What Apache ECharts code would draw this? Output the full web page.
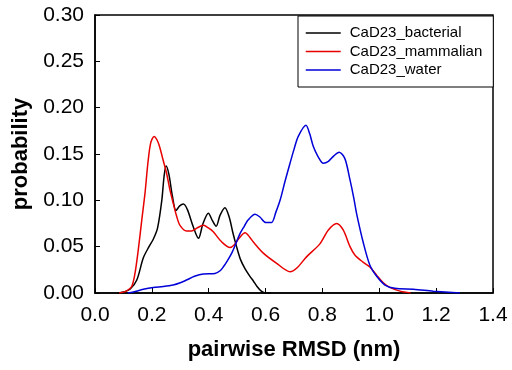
<!DOCTYPE html>
<html>
<head>
<meta charset="utf-8">
<script src="https://cdn.jsdelivr.net/npm/echarts@6/dist/echarts.min.js"></script>
<style>html,body{margin:0;padding:0;background:#fff}#c{width:512px;height:370px}</style>
</head>
<body>
<div id="c"></div>
<script>
const seriesNames = ['CaD23_bacterial', 'CaD23_mammalian', 'CaD23_water'];
const xTicks = [0, 0.2, 0.4, 0.6, 0.8, 1.0, 1.2, 1.4];
const yTicks = [0, 0.05, 0.10, 0.15, 0.20, 0.25, 0.30];

const bacterial = [[0.08,0],[0.10,0.001],[0.123,0.004],[0.147,0.014],[0.17,0.038],[0.19,0.05],[0.205,0.058],[0.22,0.07],[0.235,0.1],[0.243,0.126],[0.25,0.137],[0.26,0.128],[0.272,0.105],[0.285,0.089],[0.298,0.094],[0.311,0.096],[0.325,0.09],[0.345,0.072],[0.364,0.059],[0.38,0.075],[0.399,0.086],[0.413,0.078],[0.426,0.072],[0.44,0.084],[0.457,0.092],[0.472,0.082],[0.485,0.065],[0.498,0.05],[0.512,0.036],[0.528,0.026],[0.545,0.018],[0.557,0.013],[0.57,0.007],[0.585,0.002],[0.6,0],[0.62,0]];
const mammalian = [[0.085,0],[0.11,0.002],[0.129,0.007],[0.14,0.02],[0.152,0.046],[0.165,0.08],[0.176,0.108],[0.186,0.14],[0.196,0.162],[0.208,0.169],[0.22,0.164],[0.229,0.156],[0.24,0.143],[0.252,0.129],[0.263,0.112],[0.275,0.097],[0.287,0.083],[0.299,0.073],[0.322,0.067],[0.34,0.067],[0.358,0.07],[0.381,0.073],[0.4,0.07],[0.416,0.066],[0.446,0.055],[0.475,0.049],[0.49,0.052],[0.504,0.058],[0.528,0.065],[0.545,0.06],[0.557,0.055],[0.592,0.043],[0.639,0.032],[0.686,0.023],[0.71,0.027],[0.744,0.039],[0.791,0.053],[0.821,0.068],[0.85,0.075],[0.873,0.068],[0.897,0.05],[0.914,0.041],[0.944,0.033],[0.967,0.028],[0.991,0.019],[1.014,0.011],[1.037,0.006],[1.073,0.002],[1.11,0]];
const water = [[0.115,0],[0.135,0.001],[0.17,0.004],[0.205,0.006],[0.24,0.007],[0.275,0.0086],[0.3,0.011],[0.322,0.014],[0.35,0.018],[0.381,0.0205],[0.422,0.021],[0.44,0.024],[0.451,0.028],[0.466,0.035],[0.481,0.043],[0.495,0.053],[0.51,0.064],[0.525,0.072],[0.539,0.079],[0.563,0.085],[0.58,0.082],[0.601,0.076],[0.621,0.076],[0.636,0.087],[0.651,0.1],[0.668,0.12],[0.686,0.14],[0.7,0.155],[0.715,0.169],[0.742,0.181],[0.755,0.172],[0.768,0.158],[0.785,0.147],[0.803,0.14],[0.821,0.142],[0.84,0.148],[0.859,0.152],[0.879,0.145],[0.897,0.122],[0.91,0.103],[0.92,0.086],[0.944,0.054],[0.967,0.03],[0.991,0.018],[1.02,0.0086],[1.055,0.005],[1.12,0.004],[1.19,0.002],[1.284,0]];

const colors = ['#000000', '#e80000', '#0000d8'];
const dataSets = [bacterial, mammalian, water];
const FONT = "'Liberation Sans', Arial, sans-serif";

const chart = echarts.init(document.getElementById('c'), null, {renderer: 'canvas'});
chart.setOption({
  animation: false,
  backgroundColor: '#fff',
  grid: {left: 95, right: 19, top: 15, bottom: 77, show: true, borderColor: '#000', borderWidth: 1.5, backgroundColor: 'transparent'},
  legend: {
    orient: 'vertical', left: 298, top: 16,
    padding: [8, 11, 8, 7],
    itemWidth: 35, itemHeight: 18, itemGap: 0.5,
    itemStyle: {opacity: 0, borderWidth: 0},
    lineStyle: {width: 1.5, opacity: 1},
    borderColor: '#000', borderWidth: 1, backgroundColor: '#fff',
    textStyle: {fontFamily: FONT, fontSize: 15, color: '#000', lineHeight: 18, padding: [0, 0, 0, 4]},
    data: seriesNames
  },
  xAxis: {
    type: 'value', min: xTicks[0], max: xTicks[xTicks.length - 1], interval: 0.2,
    name: 'pairwise RMSD (nm)', nameLocation: 'middle', nameGap: 46,
    nameTextStyle: {fontFamily: FONT, fontSize: 22, fontWeight: 'bold', color: '#000'},
    axisLine: {lineStyle: {color: '#000', width: 1.5}},
    axisTick: {inside: true, length: 5, lineStyle: {color: '#000', width: 1}},
    axisLabel: {fontFamily: FONT, fontSize: 21, color: '#000', margin: 12, formatter: v => v.toFixed(1)},
    splitLine: {show: false}
  },
  yAxis: {
    type: 'value', min: yTicks[0], max: yTicks[yTicks.length - 1], interval: 0.05,
    name: 'probability', nameLocation: 'middle', nameGap: 63,
    nameTextStyle: {fontFamily: FONT, fontSize: 22, fontWeight: 'bold', color: '#000'},
    axisLine: {lineStyle: {color: '#000', width: 1.5}},
    axisTick: {inside: true, length: 5, lineStyle: {color: '#000', width: 1}},
    axisLabel: {fontFamily: FONT, fontSize: 21, color: '#000', margin: 11, formatter: v => v.toFixed(2)},
    splitLine: {show: false}
  },
  series: seriesNames.map((n, i) => ({
    name: n, type: 'line', data: dataSets[i], smooth: 0.3, symbol: 'none',
    lineStyle: {color: colors[i], width: 1.5}, itemStyle: {color: colors[i]}
  }))
});
</script>
</body>
</html>
